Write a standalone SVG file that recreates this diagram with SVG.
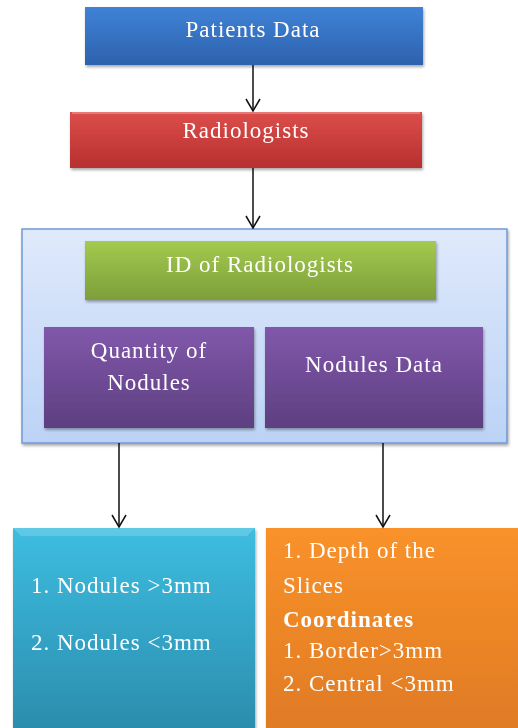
<svg xmlns="http://www.w3.org/2000/svg" width="518" height="728" viewBox="0 0 518 728">
  <defs>
    <linearGradient id="gBlue" x1="0" y1="0" x2="0" y2="1">
      <stop offset="0" stop-color="#3f82d6"/>
      <stop offset="1" stop-color="#2d62ad"/>
    </linearGradient>
    <linearGradient id="gRed" x1="0" y1="0" x2="0" y2="1">
      <stop offset="0" stop-color="#dc4d4b"/>
      <stop offset="1" stop-color="#b7302f"/>
    </linearGradient>
    <linearGradient id="gGreen" x1="0" y1="0" x2="0" y2="1">
      <stop offset="0" stop-color="#a4ca4f"/>
      <stop offset="1" stop-color="#7d9e3a"/>
    </linearGradient>
    <linearGradient id="gPurple" x1="0" y1="0" x2="0" y2="1">
      <stop offset="0" stop-color="#8158ab"/>
      <stop offset="1" stop-color="#5d3f80"/>
    </linearGradient>
    <linearGradient id="gPanel" x1="0" y1="0" x2="0" y2="1">
      <stop offset="0" stop-color="#dfe9fb"/>
      <stop offset="1" stop-color="#bcd3f6"/>
    </linearGradient>
    <linearGradient id="gCyan" x1="0" y1="0" x2="0" y2="1">
      <stop offset="0" stop-color="#3dbde0"/>
      <stop offset="1" stop-color="#2b8cad"/>
    </linearGradient>
    <linearGradient id="gOrange" x1="0" y1="0" x2="0" y2="1">
      <stop offset="0" stop-color="#f9922a"/>
      <stop offset="1" stop-color="#df7a24"/>
    </linearGradient>
    <filter id="shadow" x="-10%" y="-10%" width="120%" height="130%">
      <feGaussianBlur in="SourceAlpha" stdDeviation="1.5"/>
      <feOffset dx="1" dy="2" result="b"/>
      <feComponentTransfer><feFuncA type="linear" slope="0.35"/></feComponentTransfer>
      <feMerge><feMergeNode/><feMergeNode in="SourceGraphic"/></feMerge>
    </filter>
    <!-- open V arrowhead, drawn along +x so orient="auto" points it down the line -->
    <marker id="open" viewBox="0 0 16 16" refX="14" refY="8" markerWidth="16" markerHeight="16" markerUnits="userSpaceOnUse" orient="auto">
      <path d="M2 1 L14 8 L2 15" fill="none" stroke="#111" stroke-width="1.5"/>
    </marker>
  </defs>
  <style>
    text { font-family: "Liberation Serif", "Times New Roman", serif; fill: #ffffff; font-size: 23px; letter-spacing: 1px; }
    .c { text-anchor: middle; }
    .b { font-weight: bold; }
    .wire { stroke: #111; stroke-width: 1.5; fill: none; }
    .hl { stroke: #ffffff; stroke-opacity: 0.35; stroke-width: 1.5; fill: none; }
  </style>

  <g id="patients-data" filter="url(#shadow)">
    <rect x="85" y="7" width="338" height="58" fill="url(#gBlue)"/>
    <text class="c" x="253" y="37">Patients Data</text>
  </g>

  <g id="radiologists" filter="url(#shadow)">
    <rect x="70" y="112" width="352" height="56" fill="url(#gRed)"/>
    <line class="hl" x1="72" y1="113" x2="420" y2="113"/>
    <text class="c" x="246" y="138">Radiologists</text>
  </g>

  <g id="radiologist-record">
    <rect x="22" y="229" width="485" height="214" fill="url(#gPanel)" stroke="#6e9ad6" stroke-width="1.5" filter="url(#shadow)"/>
    <g id="id-of-radiologists" filter="url(#shadow)">
      <rect x="85" y="241" width="351" height="59" fill="url(#gGreen)"/>
      <text class="c" x="260" y="272">ID of Radiologists</text>
    </g>
    <g id="quantity-of-nodules" filter="url(#shadow)">
      <rect x="44" y="327" width="210" height="101" fill="url(#gPurple)"/>
      <text class="c" x="149" y="358">Quantity of</text>
      <text class="c" x="149" y="390">Nodules</text>
    </g>
    <g id="nodules-data" filter="url(#shadow)">
      <rect x="265" y="327" width="218" height="101" fill="url(#gPurple)"/>
      <text class="c" x="374" y="372">Nodules Data</text>
    </g>
  </g>

  <g id="nodule-sizes" filter="url(#shadow)">
    <rect x="13" y="528" width="242" height="205" fill="url(#gCyan)"/>
    <path d="M13 528 L255 528 L247 536 L21 536 Z" fill="#ffffff" fill-opacity="0.18"/>
    <text x="31" y="593">1. Nodules &gt;3mm</text>
    <text x="31" y="650">2. Nodules &lt;3mm</text>
  </g>

  <g id="nodule-details" filter="url(#shadow)">
    <rect x="266" y="528" width="256" height="205" fill="url(#gOrange)"/>
    <text x="283" y="558">1. Depth of the</text>
    <text x="283" y="593">Slices</text>
    <text class="b" x="283" y="627">Coordinates</text>
    <text x="283" y="658">1. Border&gt;3mm</text>
    <text x="283" y="691">2. Central &lt;3mm</text>
  </g>

  <g id="connectors">
    <line class="wire" x1="253" y1="65" x2="253" y2="111" marker-end="url(#open)"/>
    <line class="wire" x1="253" y1="168" x2="253" y2="228" marker-end="url(#open)"/>
    <line class="wire" x1="119" y1="443" x2="119" y2="527" marker-end="url(#open)"/>
    <line class="wire" x1="383" y1="443" x2="383" y2="527" marker-end="url(#open)"/>
  </g>
</svg>
